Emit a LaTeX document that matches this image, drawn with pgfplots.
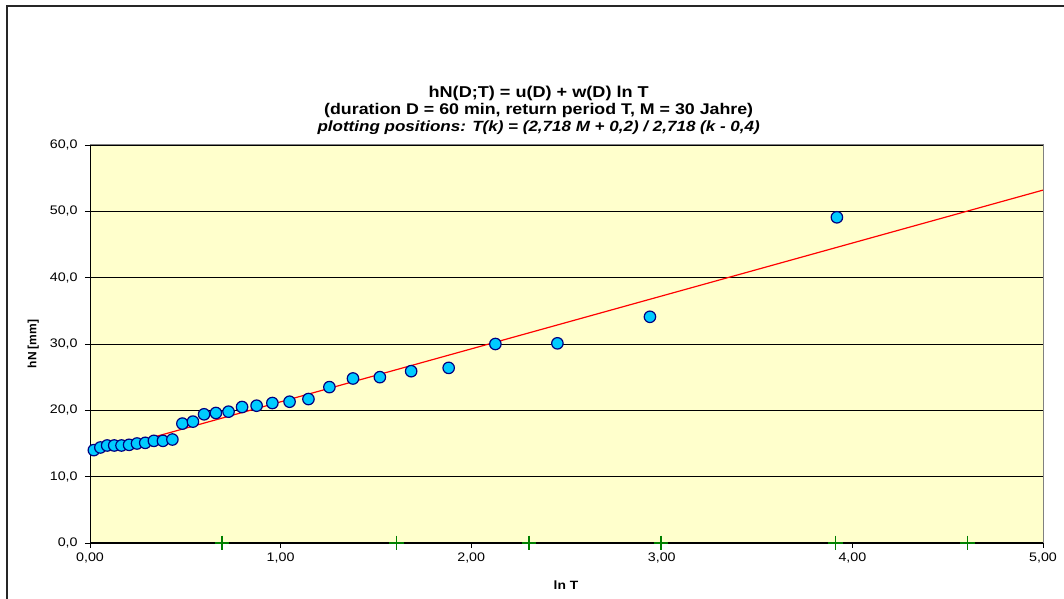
\documentclass[border=0pt]{standalone}
\usepackage{fontspec}
\setmainfont[FakeStretch=1.15]{Liberation Sans}
\newfontfamily\plainsans{Liberation Sans}
\usepackage{pgfplots}
\pgfplotsset{compat=1.18}

\definecolor{plotbg}{RGB}{255,255,204}
\definecolor{markfill}{RGB}{0,204,255}
\definecolor{markedge}{RGB}{0,0,128}
\definecolor{framegray}{RGB}{128,128,128}
\definecolor{crossgreen}{RGB}{0,128,0}

% observed heavy rainfall depths, plotted against ln T(k)
\pgfplotstableread{
lnT     hN
0.0201  14.0
0.0544  14.4
0.0900  14.7
0.1270  14.7
0.1653  14.7
0.2051  14.8
0.2466  15.0
0.2899  15.1
0.3351  15.4
0.3826  15.4
0.4323  15.6
0.4847  18.0
0.5400  18.3
0.5985  19.4
0.6606  19.6
0.7268  19.8
0.7978  20.5
0.8741  20.7
0.9568  21.1
1.0470  21.3
1.1461  21.7
1.2561  23.5
1.3797  24.8
1.5208  25.0
1.6850  25.9
1.8818  26.4
2.1269  30.0
2.4523  30.1
2.9378  34.1
3.9187  49.1
}\observed

% reference return periods T = 2, 5, 10, 20, 50, 100 years
\pgfplotstableread{
lnT     y
0.6931  0
1.6094  0
2.3026  0
2.9957  0
3.9120  0
4.6052  0
}\returnperiods

\begin{document}
\begin{tikzpicture}[x=1pt,y=1pt]
\useasboundingbox (0,0) rectangle (798,449.25);
\draw[line width=1.5pt, black!85] (5,0) -- (5,444.75) -- (798,444.75);

\node[font=\bfseries\fontsize{11.8}{13}\selectfont] at (404,379.5)
  {hN(D;T) = u(D) + w(D) ln T};
\node[font=\bfseries\fontsize{11.6}{13}\selectfont] at (404,366)
  {(duration D = 60 min, return period T, M = 30 Jahre)};
\node[font=\bfseries\itshape\fontsize{11.1}{13}\selectfont] at (404,353.25)
  {plotting positions: T(k) = (2,718 M + 0,2) / 2,718 (k - 0,4)};

\node[font=\plainsans\bfseries\fontsize{9}{10}\selectfont, rotate=90] at (25,191.25) {hN [mm]};
\node[font=\bfseries\fontsize{9}{10}\selectfont] at (424.5,10.5) {ln T};

\begin{axis}[
  at={(67.5pt,42pt)}, anchor=south west,
  scale only axis, width=714.75pt, height=298.5pt,
  xmin=0, xmax=5, ymin=0, ymax=60,
  xtick={0,1,2,3,4,5}, ytick={0,10,20,30,40,50,60},
  axis background/.style={fill=plotbg},
  axis x line*=bottom, axis y line*=left,
  axis line style={black, line width=0.75pt},
  ymajorgrids, grid style={black, line width=0.6pt},
  tick align=outside, major tick length=3.75pt,
  tick style={black, line width=0.6pt},
  xticklabel style={font=\fontsize{9.3}{10}\selectfont, /pgf/number format/.cd, fixed, fixed zerofill, precision=2, use comma, assume math mode=true},
  yticklabel style={font=\fontsize{9.3}{10}\selectfont, xshift=-2pt, /pgf/number format/.cd, fixed, fixed zerofill, precision=1, use comma, assume math mode=true},
  clip=false,
]
\addplot[only marks, mark=*, mark size=4.3pt,
  mark options={fill=markfill, draw=markedge, line width=0.9pt}]
  table[x=lnT, y=hN] {\observed};
% regression line hN = 13.3 + 7.98 ln T
\addplot[red, line width=0.9pt] coordinates {(0.0201,13.46) (5,53.2)};
\addplot[only marks, mark=+, mark size=5.5pt,
  mark options={crossgreen, line width=1.1pt}]
  table[x=lnT, y=y] {\returnperiods};
\draw[framegray, line width=0.75pt] (rel axis cs:0,1) -- (rel axis cs:1,1) -- (rel axis cs:1,0);
\end{axis}
\end{tikzpicture}
\end{document}
